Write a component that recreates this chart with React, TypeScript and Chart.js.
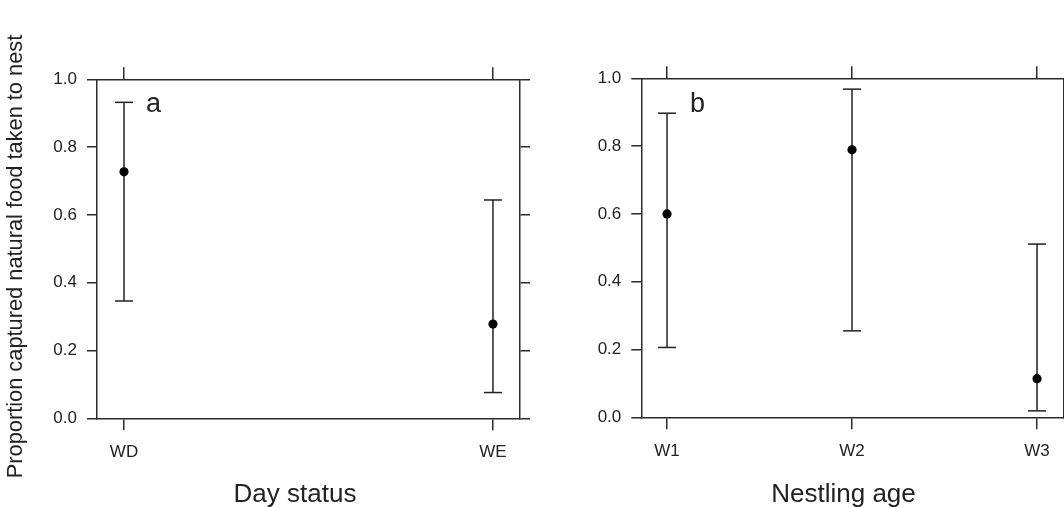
import React, { useEffect, useRef } from 'react';
import { Chart, registerables } from 'chart.js';

Chart.register(...registerables);

// ---- Data ----
const dayCategories = ['WD', 'WE'];
const dayEstimate = [0.727, 0.278];
const dayLower = [0.346, 0.076];
const dayUpper = [0.932, 0.644];

const ageCategories = ['W1', 'W2', 'W3'];
const ageEstimate = [0.6, 0.789, 0.114];
const ageLower = [0.206, 0.255, 0.019];
const ageUpper = [0.897, 0.968, 0.511];

const yTickValues = [0, 0.2, 0.4, 0.6, 0.8, 1.0];

const yAxisTitle = 'Proportion captured natural food taken to nest';
const dayTitle = 'Day status';
const ageTitle = 'Nestling age';

const FONT = "'Liberation Sans', Arial, Helvetica, sans-serif";
const LINE = '#2b2b2b';
const TEXT = '#222';

type TextItem = { text: string; x: number; y: number; size: number; rotate?: boolean; align?: CanvasTextAlign; baseline?: CanvasTextBaseline };

function textPlugin(items: TextItem[]) {
  return {
    id: 'panelText',
    afterDraw(chart: any) {
      const ctx = chart.ctx as CanvasRenderingContext2D;
      items.forEach((it) => {
        ctx.save();
        ctx.fillStyle = TEXT;
        ctx.font = `${it.size}px ${FONT}`;
        ctx.textAlign = it.align || 'center';
        ctx.textBaseline = it.baseline || 'alphabetic';
        ctx.translate(it.x, it.y);
        if (it.rotate) ctx.rotate(-Math.PI / 2);
        ctx.fillText(it.text, 0, 0);
        ctx.restore();
      });
    },
  };
}

type PanelOpts = {
  categories: string[];
  est: number[];
  lo: number[];
  hi: number[];
  xMin: number;
  xMax: number;
  leftW: number;
  rightW: number;
  topH: number;
  bottomH: number;
  texts: TextItem[];
};

function makeConfig(p: PanelOpts): any {
  const catTicks = (scale: any) => {
    scale.ticks = p.categories.map((_, i) => ({ value: i + 1 }));
  };
  const yTicksFn = (scale: any) => {
    scale.ticks = yTickValues.map((v) => ({ value: v }));
  };
  const gridBase = (len: number) => ({
    display: true,
    drawOnChartArea: false,
    drawTicks: true,
    tickLength: len,
    color: LINE,
    lineWidth: 1.5,
  });
  const border = { display: true, color: LINE, width: 1.5 };

  const errorLines = p.categories.map((_, i) => ({
    data: [
      { x: i + 1, y: p.lo[i] },
      { x: i + 1, y: p.hi[i] },
    ],
    showLine: true,
    borderColor: '#222',
    borderWidth: 1.5,
    pointRadius: 0,
    clip: false,
  }));

  const caps = {
    data: p.categories.flatMap((_, i) => [
      { x: i + 1, y: p.lo[i] },
      { x: i + 1, y: p.hi[i] },
    ]),
    showLine: false,
    pointStyle: 'line',
    pointRadius: 9,
    pointBorderWidth: 1.5,
    pointBorderColor: '#222',
    pointBackgroundColor: '#222',
    clip: false,
  };

  const points = {
    data: p.categories.map((_, i) => ({ x: i + 1, y: p.est[i] })),
    showLine: false,
    pointRadius: 4.6,
    pointBackgroundColor: '#000',
    pointBorderColor: '#000',
    pointBorderWidth: 0,
    clip: false,
  };

  return {
    type: 'scatter',
    data: { datasets: [points, caps, ...errorLines] },
    options: {
      responsive: false,
      animation: false,
      devicePixelRatio: 1,
      events: [],
      layout: { padding: 0 },
      plugins: { legend: { display: false }, tooltip: { enabled: false }, title: { display: false } },
      scales: {
        x: {
          type: 'linear',
          position: 'bottom',
          min: p.xMin,
          max: p.xMax,
          afterBuildTicks: catTicks,
          afterFit: (s: any) => { s.height = p.bottomH; },
          grid: gridBase(12),
          border,
          ticks: {
            color: TEXT,
            font: { family: FONT, size: 17 },
            padding: 12,
            maxRotation: 0,
            autoSkip: false,
            callback: (v: number) => p.categories[Math.round(v) - 1] ?? '',
          },
        },
        x2: {
          type: 'linear',
          position: 'top',
          min: p.xMin,
          max: p.xMax,
          afterBuildTicks: catTicks,
          afterFit: (s: any) => { s.height = p.topH; },
          grid: gridBase(12),
          border,
          ticks: { display: false },
        },
        y: {
          type: 'linear',
          position: 'left',
          min: 0,
          max: 1,
          afterBuildTicks: yTicksFn,
          afterFit: (s: any) => { s.width = p.leftW; },
          grid: gridBase(10),
          border,
          ticks: {
            color: TEXT,
            font: { family: FONT, size: 17 },
            padding: 10,
            autoSkip: false,
            callback: (v: number) => Number(v).toFixed(1),
          },
        },
        y2: {
          type: 'linear',
          position: 'right',
          min: 0,
          max: 1,
          afterBuildTicks: yTicksFn,
          afterFit: (s: any) => { s.width = p.rightW; },
          grid: gridBase(10),
          border,
          ticks: { display: false },
        },
      },
    },
    plugins: [textPlugin(p.texts)],
  };
}

function Panel({ left, width, opts }: { left: number; width: number; opts: PanelOpts }) {
  const ref = useRef<HTMLCanvasElement | null>(null);
  useEffect(() => {
    if (!ref.current) return;
    const chart = new Chart(ref.current, makeConfig(opts));
    return () => chart.destroy();
  }, []);
  return (
    <canvas
      ref={ref}
      width={width}
      height={508}
      style={{ position: 'absolute', left, top: 0, width, height: 508 }}
    />
  );
}

const leftPanel: PanelOpts = {
  categories: dayCategories,
  est: dayEstimate,
  lo: dayLower,
  hi: dayUpper,
  xMin: 0.9268,
  xMax: 2.0732,
  leftW: 97,
  rightW: 40,
  topH: 79.3,
  bottomH: 89.7,
  texts: [
    { text: yAxisTitle, x: 16, y: 256.5, size: 21.8, rotate: true, baseline: 'middle' },
    { text: dayTitle, x: 295, y: 501.5, size: 26 },
    { text: 'a', x: 153.5, y: 112.3, size: 27 },
  ],
};

const rightPanel: PanelOpts = {
  categories: ageCategories,
  est: ageEstimate,
  lo: ageLower,
  hi: ageUpper,
  xMin: 0.861,
  xMax: 3.142,
  leftW: 81.3,
  rightW: 16.7,
  topH: 78.3,
  bottomH: 90.7,
  texts: [
    { text: ageTitle, x: 283.5, y: 501.5, size: 26 },
    { text: 'b', x: 137.5, y: 111.7, size: 27 },
  ],
};

export default function App() {
  return (
    <div style={{ position: 'absolute', left: 0, top: 0, width: 1064, height: 508, background: '#fff', overflow: 'hidden' }}>
      <Panel left={0} width={560} opts={leftPanel} />
      <Panel left={560} width={520} opts={rightPanel} />
    </div>
  );
}
